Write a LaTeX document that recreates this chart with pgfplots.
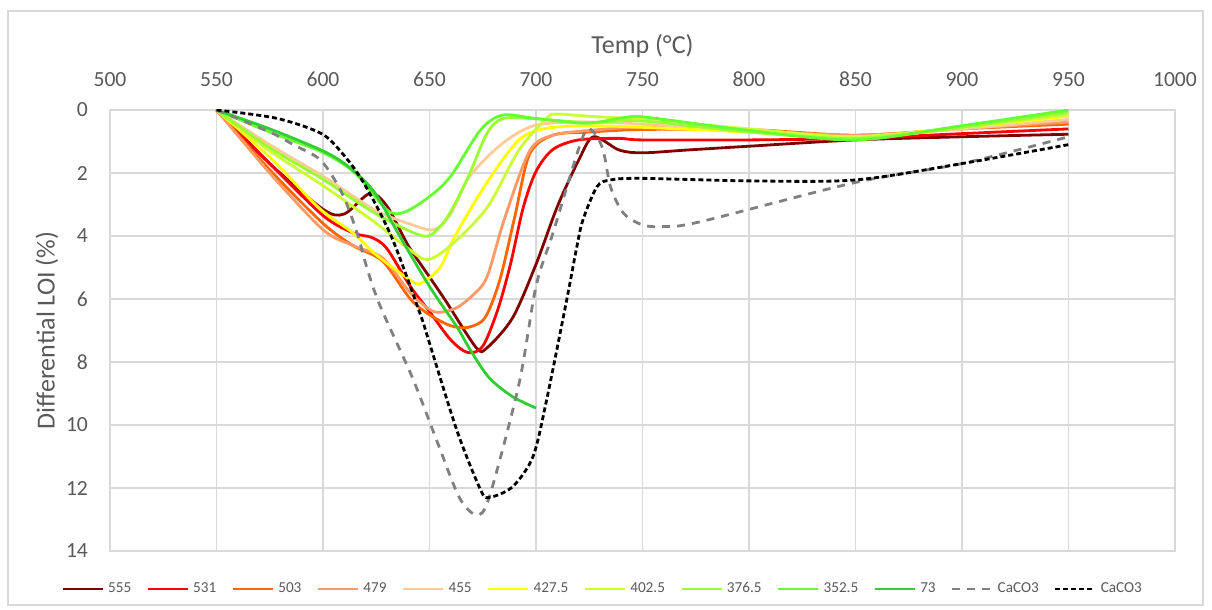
\documentclass[border=0pt]{standalone}
\usepackage{fontspec}
\setmainfont{Carlito}
\usepackage{pgfplots}
\pgfplotsset{compat=1.18}
\definecolor{gridc}{HTML}{D9D9D9}
\definecolor{labc}{HTML}{595959}
\definecolor{cA}{HTML}{800000}
\definecolor{cB}{HTML}{FF0000}
\definecolor{cC}{HTML}{FF6600}
\definecolor{cD}{HTML}{FF9966}
\definecolor{cE}{HTML}{FFCC99}
\definecolor{cF}{HTML}{FFFF00}
\definecolor{cG}{HTML}{CCFF33}
\definecolor{cH}{HTML}{99FF33}
\definecolor{cI}{HTML}{66FF33}
\definecolor{cJ}{HTML}{33CC33}
\definecolor{cK}{HTML}{808080}
\begin{document}
\begin{tikzpicture}
\path (-55pt,-29.5pt) rectangle (551pt,275.5pt);
\draw[gridc, line width=0.6pt] (-51pt,-27pt) rectangle (546.5pt,270pt);
\begin{axis}[
  scale only axis, width=532.5pt, height=220.5pt,
  xmin=500, xmax=1000, ymin=0, ymax=14, y dir=reverse,
  xtick={500,550,...,1000}, ytick={0,2,...,14},
  xticklabel pos=upper,
  grid=major, major grid style={color=gridc, line width=0.6pt},
  axis line style={color=gridc, line width=0.6pt},
  major tick length=0pt,
  tick label style={font=\fontsize{10.8}{12}\selectfont, color=labc},
  /pgf/number format/assume math mode=true,
  /pgf/number format/1000 sep={},
  xticklabel style={yshift=8pt},
  yticklabel style={xshift=-7.5pt},
  xlabel={Temp (°C)}, ylabel={Differential LOI (\%)},
  label style={font=\fontsize{13}{15}\selectfont, color=labc},
  xlabel style={at={(axis description cs:0.5,1.145)}, anchor=center},
  ylabel style={at={(axis description cs:-0.0592,0.5)}, anchor=center},
  legend style={at={(axis description cs:0.4635,-0.086)}, anchor=center, draw=none, fill=none,
    font=\fontsize{7.6}{9}\selectfont, text=labc,
    /tikz/every even column/.append style={column sep=5.6pt}},
  legend columns=-1,
  legend image code/.code={\draw[#1] (0pt,0pt) -- (20pt,0pt);},
  every axis plot/.append style={line width=1.4pt, smooth, tension=0.5},
]
\addplot[cA] coordinates {(550,0) (575,1.7) (600,3.15) (610,3.3) (622,2.65) (630,3.05) (640,4.3) (650,5.3) (658,6.1) (672,7.55) (677,7.55) (689,6.6) (700,4.9) (710,3.07) (720,1.6) (727,0.85) (739,1.27) (750,1.36) (771,1.27) (800,1.15) (850,0.95) (900,0.85) (950,0.77)};
\addlegendentry{555}
\addplot[cB] coordinates {(550,0) (575,1.7) (600,3.35) (614,3.9) (623,4.05) (630,4.4) (641,5.6) (650,6.4) (660,7.3) (668,7.7) (675,7.5) (682,6.35) (688,4.9) (694,3.1) (700,1.95) (708,1.25) (720,0.95) (739,0.9) (750,0.95) (800,0.95) (850,0.9) (900,0.75) (950,0.6)};
\addlegendentry{531}
\addplot[cC] coordinates {(550,0) (575,1.9) (600,3.6) (614,4.3) (628,4.8) (641,6.0) (650,6.5) (660,6.85) (668,6.9) (676,6.6) (683,5.4) (690,3.4) (697,1.4) (708,0.8) (725,0.7) (750,0.62) (800,0.62) (850,0.8) (900,0.6) (950,0.45)};
\addlegendentry{503}
\addplot[cD] coordinates {(550,0) (575,2.0) (600,3.8) (614,4.3) (628,4.7) (641,5.8) (652,6.4) (662,6.3) (670,5.9) (677,5.3) (685,3.5) (697,1.3) (708,0.8) (725,0.65) (750,0.55) (800,0.65) (850,0.8) (900,0.6) (950,0.38)};
\addlegendentry{479}
\addplot[cE] coordinates {(550,0) (575,1.1) (600,2.1) (609,2.5) (625,3.2) (640,3.6) (652,3.8) (660,3.3) (669,2.1) (684.5,1.05) (700,0.48) (725,0.38) (750,0.45) (800,0.65) (850,0.85) (900,0.6) (950,0.3)};
\addlegendentry{455}
\addplot[cF] coordinates {(550,0) (575,1.5) (598,3.1) (614,3.9) (625,4.6) (641,5.4) (646,5.5) (655,5.0) (662,4.0) (677,2.3) (692,0.95) (705,0.58) (725,0.5) (750,0.55) (800,0.7) (850,0.85) (900,0.55) (950,0.2)};
\addlegendentry{427.5}
\addplot[cG] coordinates {(550,0) (575,1.3) (600,2.4) (625,3.6) (640,4.4) (649,4.75) (660,4.3) (677,3.1) (692,1.27) (705,0.26) (710,0.13) (725,0.2) (750,0.3) (800,0.6) (850,0.85) (900,0.55) (950,0.15)};
\addlegendentry{402.5}
\addplot[cH] coordinates {(550,0) (575,1.2) (600,2.2) (625,3.3) (647,4.0) (655,3.7) (661,3.1) (669,2.0) (677,0.74) (684.5,0.27) (700,0.28) (725,0.4) (750,0.35) (800,0.7) (850,0.9) (900,0.55) (950,0.07)};
\addlegendentry{376.5}
\addplot[cI] coordinates {(550,0) (575,0.7) (600,1.35) (615,2.0) (630,3.17) (638,3.25) (650,2.75) (660,2.1) (674,0.63) (684.5,0.16) (700,0.27) (724,0.42) (745,0.21) (760,0.3) (800,0.65) (850,0.95) (900,0.5) (950,0.0)};
\addlegendentry{352.5}
\addplot[cJ] coordinates {(550,0) (575,0.6) (600,1.3) (612,1.8) (624,2.6) (636,4.0) (650,5.6) (663,6.9) (669,7.6) (678,8.5) (689,9.1) (700,9.46)};
\addlegendentry{73}
\addplot[cK, dash pattern=on 4pt off 3.5pt] coordinates {(550,0) (575,0.7) (586,1.1) (599,1.6) (609,2.65) (616,3.9) (621,5.1) (627,6.25) (642,8.5) (654,10.6) (664,12.3) (672,12.85) (678,12.3) (692,8.7) (700,5.6) (708,3.9) (722,0.85) (727,0.7) (731.5,1.27) (735,2.44) (741,3.27) (750,3.65) (760,3.7) (777,3.55) (850,2.3) (900,1.7) (950,0.85)};
\addlegendentry{CaCO3}
\addplot[black, dash pattern=on 2.5pt off 1.5pt] coordinates {(550,0) (578,0.26) (599,0.74) (609,1.37) (619,2.3) (632,4.0) (645.5,6.45) (650,7.4) (663,10.2) (674,12.06) (678,12.3) (689,11.96) (698.6,11.0) (705,9.2) (714.5,6.0) (719,4.4) (722,3.5) (728.6,2.44) (735,2.22) (750,2.17) (800,2.25) (850,2.22) (900,1.7) (950,1.1)};
\addlegendentry{CaCO3}
\end{axis}
\end{tikzpicture}
\end{document}
